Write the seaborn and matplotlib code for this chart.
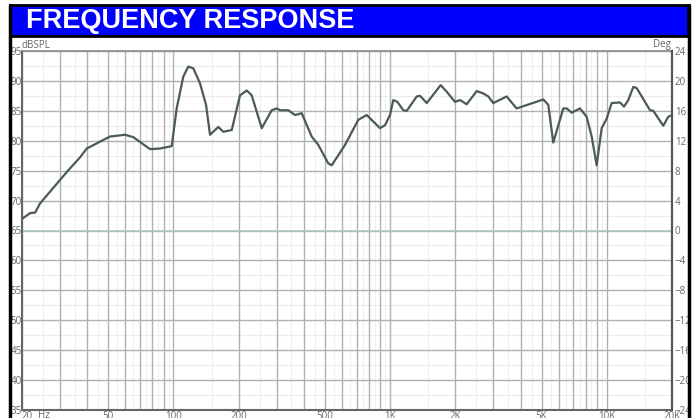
import matplotlib
matplotlib.use("Agg")
import matplotlib.pyplot as plt
import matplotlib.ticker as mticker
from matplotlib.lines import Line2D
import pandas as pd
import seaborn as sns

# response curve (Hz, dB SPL)
freq_hz = [20.1, 21.8, 23.0, 24.2, 29.4, 32.6, 37.0, 39.8, 50.9, 59.8, 65.3, 78.0,
           86.7, 98.2, 103.5, 111.0, 117.1, 123.5, 132.6, 141.4, 147.5, 161.1, 169.9,
           185.8, 202.9, 217.9, 229.7, 255.6, 284.2, 299.7, 310.4, 338.9, 364.0, 390.9,
           434.6, 466.2, 518.6, 537.7, 619.3, 713.1, 779.8, 898.4, 947.5, 998.9, 1034,
           1080, 1151, 1193, 1327, 1375, 1476, 1712, 1825, 1993, 2101, 2257, 2510, 2692,
           2838, 2993, 3452, 3838, 5093, 5371, 5662, 6299, 6531, 6888, 7523, 8077, 8518,
           8982, 9472, 9989, 10534, 11508, 12007, 12570, 13256, 13743, 15831, 16393,
           18231, 19216, 20000]
spl_db = [67.0, 67.9, 68.0, 69.5, 73.1, 75.0, 77.2, 78.7, 80.7, 81.0, 80.6, 78.6,
          78.7, 79.1, 85.4, 90.7, 92.4, 92.1, 89.6, 86.0, 81.0, 82.3, 81.5,
          81.8, 87.6, 88.4, 87.6, 82.1, 85.1, 85.4, 85.1, 85.1, 84.3, 84.6,
          80.7, 79.3, 76.2, 75.9, 79.3, 83.5, 84.3, 82.1, 82.6, 84.3, 86.8,
          86.5, 85.1, 85.0, 87.4, 87.5, 86.3, 89.3, 88.2, 86.5, 86.8, 86.1, 88.3, 87.9,
          87.4, 86.3, 87.4, 85.4, 86.9, 86.0, 79.7, 85.4, 85.4, 84.7, 85.4, 84.0, 80.7,
          75.9, 82.1, 83.7, 86.3, 86.4, 85.7, 86.8, 89.0, 88.8, 85.1, 85.0,
          82.5, 84.0, 84.3]

x_tick_values = [20, 50, 100, 200, 500, 1000, 2000, 5000, 10000, 20000]
x_tick_labels = ["20", "50", "100", "200", "500", "1K", "2K", "5K", "10K", "20K"]
spl_ticks = [35, 40, 45, 50, 55, 60, 65, 70, 75, 80, 85, 90, 95]
deg_ticks = [-24, -20, -16, -12, -8, -4, 0, 4, 8, 12, 16, 20, 24]

W, H = 694, 418
sns.set_style("white")
plt.rcParams['font.family'] = ['Open Sans', 'DejaVu Sans']

df = pd.DataFrame({"freq": freq_hz, "spl": spl_db})

fig = plt.figure(figsize=(W / 100, H / 100), dpi=100)
fig.patch.set_facecolor("white")

# title banner
banner = fig.add_axes([9.5 / W, (H - 36) / H, 679 / W, 31 / H])
banner.set_facecolor("#0000ff")
banner.set_xticks([])
banner.set_yticks([])
for s in banner.spines.values():
    s.set_color("black")
    s.set_linewidth(2)
banner.text(17 / 679, 0.5, "FREQUENCY RESPONSE", color="white", fontsize=19.5,
            fontweight="bold", family="Liberation Sans", ha="left", va="center",
            transform=banner.transAxes)

# side frame lines
fig.add_artist(Line2D([9.5 / W, 9.5 / W], [0, (H - 5) / H], color="black", lw=2.5,
                      transform=fig.transFigure))
fig.add_artist(Line2D([688.5 / W, 688.5 / W], [0, (H - 5) / H], color="black", lw=2.5,
                      transform=fig.transFigure))

ax = fig.add_axes([22 / W, 8 / H, 650 / W, 359 / H])
ax.set_xscale("log")
ax.set_xlim(20, 20000)
ax.set_ylim(35, 95)

# faint half-step grid
for dec in [10, 100, 1000, 10000]:
    for m in [1.5, 2.5, 3.5, 4.5, 5.5, 6.5, 7.5, 8.5, 9.5]:
        v = dec * m
        if 20 < v < 20000:
            ax.axvline(v, color="#efefef", lw=0.8, zorder=0)
for v in spl_ticks[:-1]:
    ax.axhline(v + 2.5, color="#ececec", lw=0.8, zorder=0)

ax.set_xticks(x_tick_values, x_tick_labels)
ax.xaxis.set_minor_locator(mticker.LogLocator(base=10, subs=[1, 2, 3, 4, 5, 6, 7, 8, 9]))
ax.xaxis.set_minor_formatter(mticker.NullFormatter())
ax.set_yticks(spl_ticks)
ax.grid(which="both", axis="x", color="#b0b0b0", lw=1.0, zorder=1)
ax.grid(which="major", axis="y", color="#b0b0b0", lw=1.0, zorder=1)
ax.axhline(65, color="#a8c8bf", lw=1.1, zorder=1)

sns.lineplot(data=df, x="freq", y="spl", ax=ax, color="#4a5b55", linewidth=1.6,
             zorder=3)
ax.set_xlabel("")
ax.set_ylabel("")

ax.tick_params(axis="both", which="both", length=0, labelsize=7, labelcolor="#666666")
ax.tick_params(axis="x", pad=1)
ax.tick_params(axis="y", pad=0)
ax.get_xticklabels()[0].set_horizontalalignment("left")
for name, s in ax.spines.items():
    s.set_color("#666666")
    s.set_linewidth(1.5)
ax.spines["top"].set_color("#8a8a8a")
ax.spines["top"].set_linewidth(1.2)

ax2 = ax.twinx()
ax2.set_ylim(-24, 24)
ax2.set_yticks(deg_ticks)
ax2.tick_params(axis="y", length=0, labelsize=7, labelcolor="#666666", pad=2)
for s in ax2.spines.values():
    s.set_visible(False)
ax2.spines["right"].set_visible(True)
ax2.spines["right"].set_color("#555555")
ax2.spines["right"].set_linewidth(1.5)

fig.text(22 / W, 1 - 45 / H, "dBSPL", fontsize=7, color="#666666", va="center")
fig.text(671 / W, 1 - 44 / H, "Deg", fontsize=7, color="#666666", va="center", ha="right")
fig.text(44 / W, 1 - 415 / H, "Hz", fontsize=7, color="#666666", va="center", ha="center")

fig.savefig("out.png", dpi=100)
